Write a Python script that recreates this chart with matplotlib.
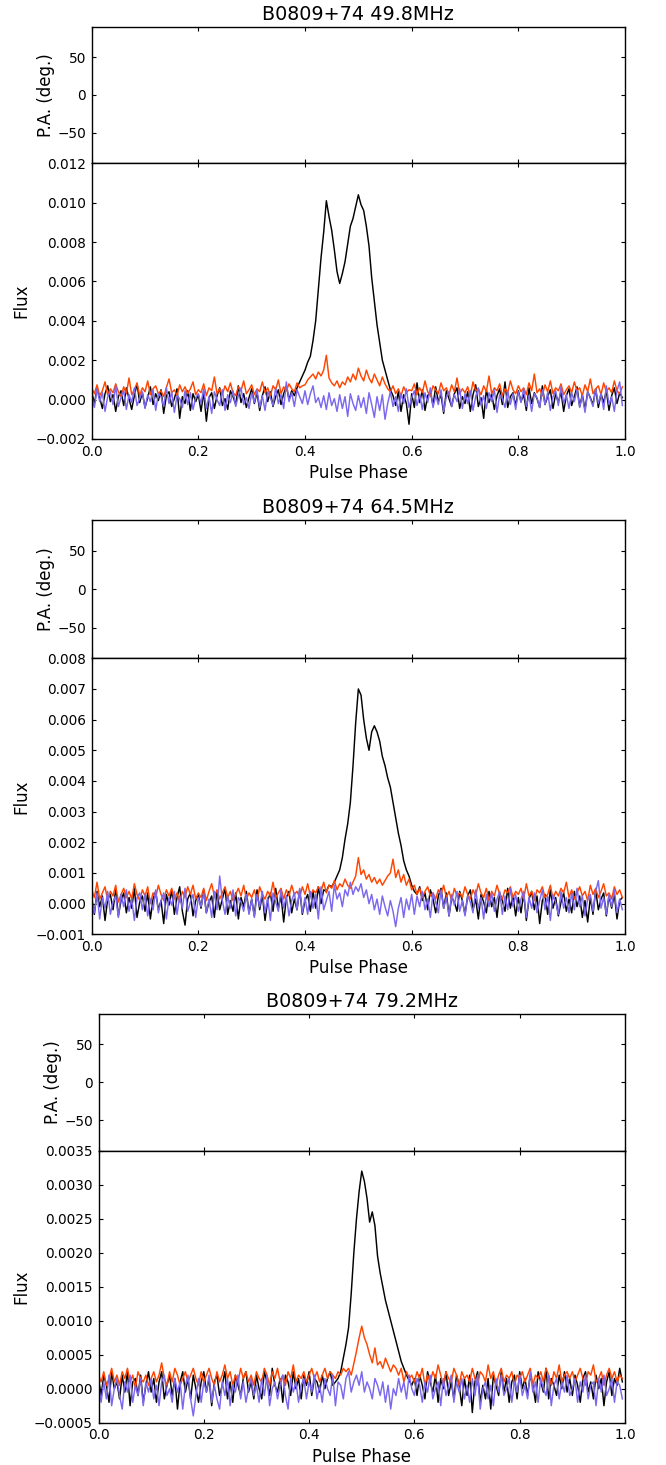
"""
Polarisation profiles of B0809+74 at three LOFAR frequencies.
Each panel: empty P.A. axis on top, total / linear / circular flux below.
"""
import numpy as np
import matplotlib

matplotlib.use("Agg")
import matplotlib.pyplot as plt
from matplotlib.ticker import MultipleLocator

# flux values are in units of 1e-5, one value per phase bin (200 bins)
SCALE = 1e-5
N_BINS = 200

titles = ["B0809+74 49.8MHz", "B0809+74 64.5MHz", "B0809+74 79.2MHz"]

# ---- 49.8 MHz ----
i_49 = [
    40, -20, 55, 10, -45, 30, 70, -10, 25, -60, 15, 45, -30, 60, 5, -50, 20, 80, -15, 35,
    -40, 10, 65, -25, 30, -5, 50, -70, 20, 40, -35, 5, 55, -95, 15, -20, 45, -55, 30, -10,
    25, -60, 40, -110, 10, 35, -45, 20, 60, -30, 5, -50, 45, 15, -25, 70, -15, 30, -40, 10,
    55, -20, 35, -55, 20, 65, -10, 40, -35, 15, 50, -25, 30, 70, 0, 45, 20, 60, 90, 120,
    150, 190, 220, 300, 400, 560, 720, 850, 1010, 930, 860, 760, 650, 590, 640, 700, 790, 880, 920, 980,
    1040, 990, 960, 880, 780, 620, 500, 380, 290, 200, 150, 100, 50, 20, -30, 40, -60, 25, -20, -125,
    30, -40, 85, -15, 50, -55, 20, 40, -30, 65, -10, 25, -70, 45, 5, -35, 30, 60, -45, 15,
    -20, 40, -60, 25, 75, -35, 10, -95, 50, -15, 30, -50, 20, 55, -25, 90, -40, 15, 35, -30,
    45, -10, 25, -55, 60, -20, 35, 5, -40, 70, -25, 15, 50, -45, 30, -15, 40, -60, 20, 55,
    -30, 15, 65, -35, 25, -50, 40, 10, -25, 55, -40, 30, -15, 45, -55, 20, 60, -20, 35, 10,
]
l_49 = [
    60, 30, 75, 20, 45, 90, 25, 55, 35, 80, 40, 15, 65, 30, 110, 25, 50, 85, 20, 60,
    40, 95, 25, 55, 70, 30, 45, 15, 60, 105, 35, 50, 20, 75, 40, 65, 30, 55, 90, 25,
    50, 35, 80, 20, 60, 45, 115, 30, 55, 25, 70, 40, 85, 35, 20, 65, 45, 95, 30, 50,
    75, 25, 55, 40, 90, 35, 60, 20, 70, 50, 100, 30, 65, 45, 80, 55, 40, 85, 60, 70,
    75, 100, 115, 130, 105, 140, 120, 150, 225, 110, 85, 70, 95, 60, 90, 75, 115, 90, 130, 100,
    160, 120, 95, 150, 110, 85, 130, 100, 70, 115, 80, 55, 40, 70, 30, 55, 20, 65, 35, 50,
    45, 80, 25, 60, 35, 95, 40, 20, 70, 50, 30, 85, 45, 60, 25, 75, 40, 110, 30, 55,
    35, 65, 20, 90, 45, 55, 25, 70, 40, 120, 30, 60, 45, 80, 20, 55, 35, 95, 50, 30,
    70, 40, 60, 25, 85, 45, 130, 35, 55, 20, 75, 40, 95, 30, 60, 45, 80, 25, 50, 70,
    35, 90, 45, 60, 20, 75, 40, 105, 30, 55, 70, 25, 85, 40, 60, 35, 95, 45, 30, 65,
]
v_49 = [
    20, -40, 55, -10, 35, -60, 15, 40, -25, 70, -35, 10, 45, -50, 25, -15, 60, -30, 5, 40,
    -45, 25, -10, 50, -55, 30, 15, -35, 60, -20, 40, -65, 20, 5, -40, 45, -25, 35, -50, 10,
    30, -20, 55, -45, 15, -70, 40, 0, -30, 50, -55, 25, -15, 45, -35, 20, 60, -25, 10, -45,
    35, -15, 50, -40, 20, -55, 40, 10, -30, 60, -20, 25, -45, 90, -10, 35, -35, 50, 15, -20,
    45, -25, 30, 70, -15, 10, -40, 20, -50, 35, -30, 5, -60, 25, -45, 15, -85, 30, -20, -55,
    20, -40, 10, -70, 35, -25, -90, 15, -55, 25, -100, -20, 40, -35, 15, -60, 30, -20, 55, -40,
    10, 45, -30, 25, -50, 35, -15, 60, -40, 20, -25, 50, -60, 15, 40, -35, 25, -10, 55, -45,
    30, -20, 45, -55, 15, 60, -30, 20, -45, 35, -10, 50, -65, 25, 5, -40, 45, -25, 30, -50,
    40, -15, 55, -35, 20, -60, 30, 10, -40, 50, -25, 35, -55, 15, 45, -30, 65, -20, 25, -45,
    35, -10, 50, -40, 20, -65, 40, 5, -35, 55, -20, 30, -50, 70, -25, 15, -60, 45, 90, -30,
]

# ---- 64.5 MHz ----
i_64 = [
    20, -35, 40, -10, 25, -55, 15, 30, -20, 45, -40, 10, 35, -30, 20, -15, 50, -45, 5, 25,
    -25, 35, -50, 15, 40, -20, 10, -65, 30, -5, 45, -35, 20, 55, -25, -70, 15, 35, -40, 10,
    30, -15, 45, -30, 5, 25, -45, 40, -20, 15, 50, -35, 10, -25, 35, -50, 20, -10, 40, -30,
    15, -40, 45, -20, 30, -55, 10, 35, -25, 50, -15, 25, -60, 20, 40, -30, 15, -20, 45, -35,
    10, 30, -25, 40, -15, 55, 0, 45, 40, 60, 55, 70, 90, 110, 150, 210, 260, 330, 450, 590,
    700, 680, 600, 540, 500, 560, 580, 560, 530, 480, 450, 410, 380, 330, 280, 230, 190, 140, 110, 90,
    60, 40, 30, 55, 10, 35, -20, 45, 15, -30, 25, 50, -15, 35, -40, 20, 5, -25, 40, 10,
    -35, 25, 45, -20, 15, -50, 30, 5, -30, 40, -10, 20, -45, 35, 10, -25, 50, -15, 25, -40,
    20, -30, 35, -55, 15, 40, -20, 25, -65, 10, 30, -35, 45, -15, 20, -40, 5, 35, -25, 15,
    -30, 40, -10, 25, -45, 10, -60, 20, -35, 45, -20, 15, 35, -40, 25, -15, 30, -50, 10, 20,
]
l_64 = [
    45, 20, 70, 15, 35, 55, 10, 40, 25, 60, 5, 30, 50, 20, 40, 15, 65, 30, 10, 45,
    25, 55, 0, 35, 20, 60, 30, 10, 45, 25, 50, 15, 35, 5, 40, 20, 55, 30, 60, 15,
    35, 20, 50, 10, 40, 65, 25, 45, 15, 35, 55, 20, 40, 10, 30, 50, 25, 60, 15, 35,
    20, 45, 10, 55, 30, 15, 40, 25, 70, 20, 35, 50, 15, 45, 25, 60, 30, 40, 20, 55,
    30, 65, 25, 45, 35, 55, 40, 70, 35, 60, 50, 75, 45, 65, 55, 80, 60, 50, 70, 90,
    150, 95, 110, 80, 95, 70, 85, 65, 80, 60, 75, 90, 100, 145, 85, 110, 70, 95, 60, 80,
    45, 60, 30, 50, 20, 40, 55, 25, 35, 15, 45, 30, 60, 20, 40, 10, 50, 25, 35, 20,
    55, 30, 15, 45, 25, 65, 35, 20, 50, 10, 40, 25, 60, 30, 15, 45, 35, 55, 20, 40,
    30, 50, 15, 65, 25, 40, 10, 45, 35, 55, 20, 30, 60, 15, 40, 25, 50, 35, 70, 20,
    45, 15, 35, 55, 25, 40, 10, 60, 30, 50, 20, 40, 65, 25, 35, 15, 55, 30, 45, 20,
]
v_64 = [
    10, -30, 35, -50, 20, -15, 40, -35, 5, 25, -45, 30, -10, 45, -25, 15, -55, 20, 35, -20,
    30, -40, 15, -20, 45, -30, 10, 35, -50, 20, -5, 40, -35, 25, -15, 50, -25, 5, 30, -45,
    20, -10, 35, -30, 15, -45, 40, -20, 90, 10, -35, 25, -15, 45, -40, 20, 5, -25, 30, -35,
    15, -45, 30, -10, 40, -30, 20, -55, 35, 5, -25, 45, -15, 25, -40, 10, 35, -20, 50, -30,
    20, -35, 40, -15, 30, -50, 55, -20, 10, 40, -25, 60, 15, 35, -10, 45, 25, 70, 30, 55,
    40, 65, 20, 45, 0, 30, -20, 15, -35, 25, -10, -40, 10, -25, -75, -15, 20, -45, 15, -20,
    30, -35, 25, -10, 40, -20, 15, -45, 35, 5, -30, 45, -15, 20, -40, 30, -5, 40, -25, 10,
    -40, 25, 5, -30, 45, -15, 20, -50, 30, -10, 35, -25, 15, 40, -35, 25, -20, 50, -10, 30,
    -25, 15, 40, -45, 20, -15, 35, -30, 10, 45, -20, 25, -55, 30, 5, -35, 40, -15, 20, -30,
    35, -20, 50, -10, 25, -40, 15, 30, -25, 40, 75, -15, 20, -35, 30, -10, 45, -30, 15, -20,
]

# ---- 79.2 MHz ----
i_79 = [
    15, -10, 20, 5, -20, 25, 0, 10, -15, 20, -5, 25, -25, 10, 15, -10, 20, -20, 5, 25,
    -5, 15, -20, 10, 25, -15, 5, 20, -10, 15, -30, 10, 25, -5, 15, -15, 20, 0, -20, 10,
    25, -5, 15, -25, 10, 20, -10, 5, 25, -15, 10, -20, 20, 5, -10, 15, 25, -5, 10, -15,
    20, 0, -15, 25, 10, -10, 30, 5, -5, 15, -20, 20, 10, -10, 25, 0, 15, -15, 20, 5,
    25, -10, 15, 10, -5, 20, 0, 15, 25, 5, 10, 15, 25, 45, 65, 90, 140, 200, 250, 290,
    320, 305, 280, 245, 260, 240, 195, 170, 150, 130, 115, 100, 85, 70, 55, 40, 30, 20, 12, 5,
    15, -10, 20, 5, -15, 25, 10, -5, 20, -20, 15, 0, 25, -10, 10, -15, 20, 5, -25, 15,
    -10, 20, -35, 10, 25, -20, 5, -15, 15, -30, 20, 5, -10, 25, -5, 15, -20, 10, 20, -15,
    25, 0, 15, -10, 20, 5, -20, 25, 10, -5, 30, -15, 15, 5, -10, 20, 0, 25, -5, 15,
    -10, 20, 5, -20, 15, 25, -5, 10, -15, 20, 0, 15, -25, 10, 25, -10, 15, 5, 30, 10,
]
l_79 = [
    20, 10, 25, 5, 15, 30, 10, 20, 5, 25, 15, 30, 10, 20, 0, 25, 15, 10, 20, 5,
    15, 25, 10, 20, 38, 15, 5, 25, 10, 30, 20, 5, 15, 25, 10, 20, 30, 15, 5, 25,
    10, 20, 30, 15, 5, 25, 10, 20, 35, 15, 25, 5, 20, 10, 30, 15, 25, 10, 20, 5,
    25, 15, 10, 30, 20, 5, 25, 15, 30, 10, 20, 5, 25, 15, 35, 10, 20, 15, 25, 10,
    20, 30, 15, 25, 10, 20, 30, 15, 25, 20, 15, 25, 20, 30, 25, 30, 20, 37, 55, 75,
    92, 75, 65, 50, 38, 60, 35, 40, 30, 45, 35, 25, 35, 30, 20, 30, 10, 25, 15, 20,
    10, 25, 15, 30, 5, 20, 10, 25, 15, 35, 20, 5, 25, 15, 10, 30, 20, 5, 25, 15,
    20, 10, 30, 15, 5, 25, 20, 10, 35, 15, 25, 5, 20, 30, 10, 20, 15, 25, 5, 20,
    15, 25, 10, 20, 30, 5, 20, 15, 25, 10, 30, 20, 5, 25, 15, 35, 10, 20, 25, 15,
    25, 10, 20, 30, 15, 5, 25, 20, 35, 10, 15, 25, 5, 20, 30, 15, 25, 10, 20, 15,
]
v_79 = [
    5, -20, 10, -15, 20, -25, 0, 15, -10, -30, 10, -5, 20, -20, 5, -10, 15, -25, 10, -5,
    15, -15, 5, -25, 10, 20, -10, 0, -20, 15, -5, 10, -30, 5, 20, -15, -40, -10, 15, -20,
    10, -5, 20, -20, 5, -15, -30, 10, -10, 15, -25, 5, -5, 20, -15, 10, -20, 0, 15, -10,
    5, -20, 15, -10, 20, -25, 0, 10, -15, 5, 20, -10, -30, 15, -5, 10, -20, 5, 15, -15,
    10, -5, 20, -15, 5, -20, 15, 0, -10, 20, -25, 10, 5, -15, 15, 25, -5, 10, 20, 5,
    25, -5, 10, 0, -15, 15, 5, -10, 10, -20, 5, -30, 0, -10, 15, -5, 10, -15, 20, 0,
    -10, 15, 5, -20, 10, -5, 20, -15, 0, 10, -25, 15, -10, 5, 20, -20, 10, -5, 15, -15,
    5, -20, 15, -10, 20, -30, 0, 10, -15, 5, -25, 15, -5, 20, -10, 0, 15, -20, 10, -5,
    20, -10, 5, -15, 25, -5, 10, -20, 15, 0, -10, 20, -25, 5, 15, -15, 10, -5, 20, -10,
    0, 15, -20, 10, -5, 20, -15, 5, 10, -25, 15, -5, 20, -10, 0, 15, -20, 10, 5, -15,
]

flux_limits = [(-0.002, 0.012), (-0.001, 0.008), (-0.0005, 0.0035)]
flux_steps = [0.002, 0.001, 0.0005]
profiles = [(i_49, l_49, v_49), (i_64, l_64, v_64), (i_79, l_79, v_79)]

# panel geometry in pixels: (left, pa_top, split, flux_bottom)
W, H = 666, 1465
RIGHT = 625
geometry = [(91.7, 26.7, 163.3, 439.0), (91.7, 520.0, 658.3, 934.3), (98.5, 1014.0, 1150.7, 1422.7)]

TICK_FS = 9.8
LABEL_FS = 12
TITLE_FS = 13.8
LW = 1.05


def px_axes(fig, left, top, bottom):
    return fig.add_axes([left / W, 1 - bottom / H, (RIGHT - left) / W, (bottom - top) / H])


def style_axes(ax):
    ax.tick_params(direction="in", top=True, right=True, length=3, width=0.8,
                   labelsize=TICK_FS, pad=4)
    for sp in ax.spines.values():
        sp.set_linewidth(1.0)
    ax.set_xlim(0, 1)
    ax.xaxis.set_major_locator(MultipleLocator(0.2))


def main():
    plt.rcParams["font.family"] = ["DejaVu Sans"]
    plt.rcParams["axes.unicode_minus"] = True

    fig = plt.figure(figsize=(W / 100, H / 100), dpi=100)
    phase = np.arange(N_BINS) / N_BINS

    for k in range(3):
        left, top, split, bottom = geometry[k]
        stokes_i, lin, circ = [np.array(s) * SCALE for s in profiles[k]]

        ax_pa = px_axes(fig, left, top, split)
        style_axes(ax_pa)
        ax_pa.set_ylim(-90, 90)
        ax_pa.set_yticks([-50, 0, 50])
        ax_pa.tick_params(labelbottom=False)
        ax_pa.set_ylabel("P.A. (deg.)", fontsize=LABEL_FS)
        ax_pa.set_title(titles[k], fontsize=TITLE_FS, pad=5)

        ax = px_axes(fig, left, split, bottom)
        style_axes(ax)
        ax.plot(phase, stokes_i, color="black", lw=LW)
        ax.plot(phase, lin, color="#FF4500", lw=LW)
        ax.plot(phase, circ, color="#7B68EE", lw=LW)
        ax.set_ylim(*flux_limits[k])
        ax.yaxis.set_major_locator(MultipleLocator(flux_steps[k]))
        ax.set_xlabel("Pulse Phase", fontsize=LABEL_FS, labelpad=4)
        ax.set_ylabel("Flux", fontsize=LABEL_FS)

        # put both y labels at fixed pixel columns
        width = RIGHT - left
        ax.yaxis.set_label_coords((30 - left) / width, 0.5)
        pa_x = 55 if k < 2 else 62
        ax_pa.yaxis.set_label_coords((pa_x - left) / width, 0.5)

    fig.savefig("out.png", dpi=100)
    plt.close(fig)


if __name__ == "__main__":
    main()
